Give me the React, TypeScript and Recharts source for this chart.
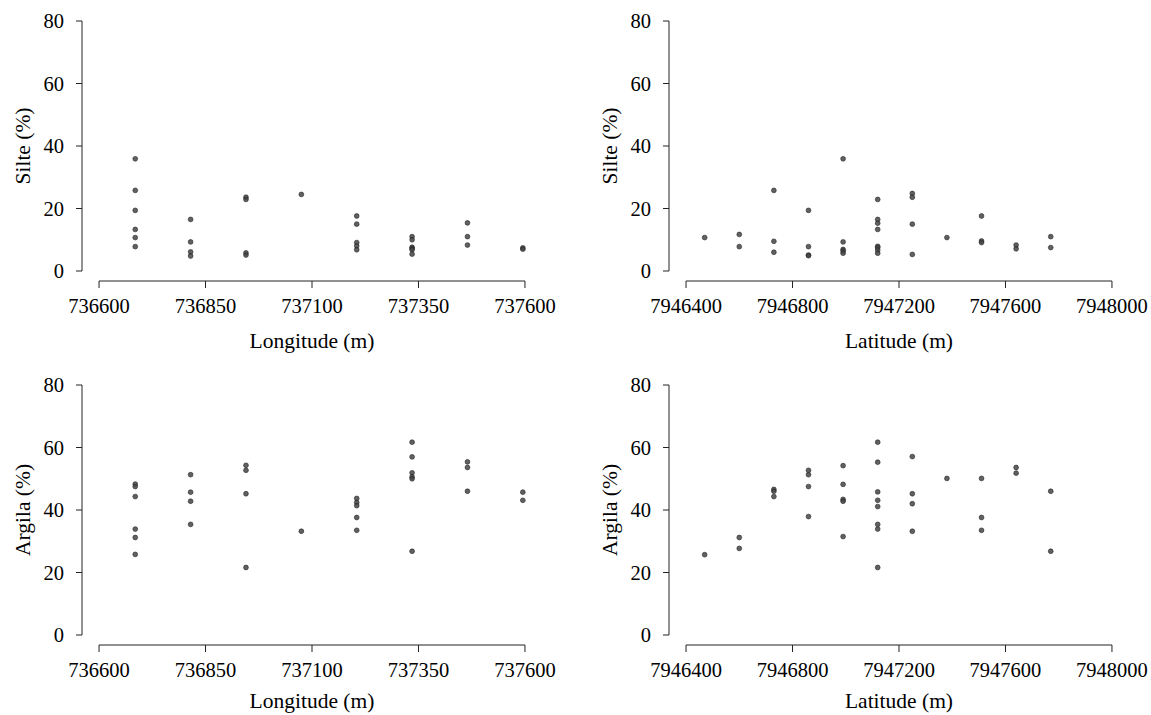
import { ScatterChart, Scatter, XAxis, YAxis, ReferenceLine } from 'recharts';

// sampling positions (m) and the values read at each position
const longitudes = [736685, 736815, 736945, 737075, 737205, 737335, 737465, 737595];
const latitudes = [7946470, 7946600, 7946730, 7946860, 7946990, 7947120, 7947250, 7947380, 7947510, 7947640, 7947770];

const silteByLongitude = [
  [35.9, 25.8, 19.4, 13.3, 10.7, 7.8],
  [16.5, 9.3, 6.1, 4.8],
  [23.6, 22.9, 5.8, 5.1],
  [24.5],
  [17.6, 15.0, 9.1, 8.0, 6.8],
  [11.0, 10.0, 7.6, 7.2, 6.8, 5.4],
  [15.4, 11.0, 8.3],
  [7.4, 7.0],
];

const argilaByLongitude = [
  [48.3, 47.5, 44.3, 33.9, 31.2, 25.8],
  [51.3, 45.7, 42.8, 35.4],
  [54.3, 52.7, 45.2, 21.6],
  [33.2],
  [43.7, 42.4, 41.4, 37.6, 33.5],
  [61.7, 57.0, 51.9, 50.6, 50.0, 26.8],
  [55.4, 53.6, 46.0],
  [45.7, 43.1],
];

const silteByLatitude = [
  [10.7],
  [11.7, 7.8],
  [25.8, 9.5, 6.0],
  [19.4, 7.8, 5.1, 4.9],
  [35.9, 9.3, 6.9, 6.4, 5.7],
  [22.9, 16.5, 15.3, 13.3, 7.9, 7.5, 6.7, 5.7],
  [24.8, 23.6, 15.0, 5.3],
  [10.7],
  [17.6, 9.6, 9.1],
  [8.3, 7.1],
  [11.0, 7.5],
];

const argilaByLatitude = [
  [25.7],
  [31.2, 27.7],
  [46.6, 46.0, 44.3],
  [52.7, 51.3, 47.5, 37.9],
  [54.2, 48.2, 43.4, 42.8, 31.5],
  [61.7, 55.3, 45.8, 43.1, 41.1, 35.4, 33.9, 21.6],
  [57.1, 45.2, 42.0, 33.2],
  [50.1],
  [50.1, 37.6, 33.5],
  [53.6, 51.8],
  [46.0, 26.8],
];

const longitudeTicks = [736600, 736850, 737100, 737350, 737600];
const latitudeTicks = [7946400, 7946800, 7947200, 7947600, 7948000];
const percentTicks = [0, 20, 40, 60, 80];

const FONT = "'Liberation Serif', 'DejaVu Serif', serif";
const TICK_SIZE = 20.5;
const LABEL_SIZE = 21.5;
const CHART_W = 587;
const CHART_H = 364;

// R-style 4% padding around the axis range
const pad = (ticks: number[]): [number, number] => {
  const lo = ticks[0];
  const hi = ticks[ticks.length - 1];
  const d = (hi - lo) * 0.04;
  return [lo - d, hi + d];
};

const toPoints = (xs: number[], groups: number[][]) =>
  groups.flatMap((g, i) => g.map((y) => ({ x: xs[i], y })));

const Dot = (p: any) => (
  <circle cx={p.cx} cy={p.cy} r={2.4} fill="#454545" fillOpacity={0.85} stroke="#222" strokeWidth={0.6} />
);

const XTick = (p: any) => (
  <text x={p.x} y={p.y} dy="0.71em" textAnchor="middle" fill="#000" style={{ fontFamily: FONT, fontSize: TICK_SIZE }}>
    {p.payload.value}
  </text>
);

const YTick = (p: any) => (
  <text x={p.x} y={p.y} dy="0.355em" textAnchor="end" fill="#000" style={{ fontFamily: FONT, fontSize: TICK_SIZE }}>
    {p.payload.value}
  </text>
);

type PanelProps = {
  left: number;
  top: number;
  points: { x: number; y: number }[];
  xTicks: number[];
  xLabel: string;
  yLabel: string;
  labelOffset: number;
};

function Panel({ left, top, points, xTicks, xLabel, yLabel, labelOffset }: PanelProps) {
  const xDomain = pad(xTicks);
  const yDomain = pad(percentTicks);

  const xLabelEl = (p: any) => {
    const vb = p.viewBox;
    return (
      <text
        x={vb.x + vb.width / 2}
        y={vb.y + vb.height - labelOffset}
        textAnchor="middle"
        fill="#000"
        style={{ fontFamily: FONT, fontSize: LABEL_SIZE }}
      >
        {xLabel}
      </text>
    );
  };

  const yLabelEl = (p: any) => {
    const vb = p.viewBox;
    const cx = vb.x + 22;
    const cy = vb.y + vb.height / 2;
    return (
      <text
        x={cx}
        y={cy}
        dy="0.355em"
        textAnchor="middle"
        transform={`rotate(-90 ${cx} ${cy})`}
        fill="#000"
        style={{ fontFamily: FONT, fontSize: LABEL_SIZE }}
      >
        {yLabel}
      </text>
    );
  };

  return (
    <div style={{ position: 'absolute', left, top }}>
      <ScatterChart width={CHART_W} height={CHART_H} margin={{ top: 11, right: 45, bottom: 0, left: 0 }}>
        <XAxis
          type="number"
          dataKey="x"
          domain={xDomain}
          ticks={xTicks}
          interval={0}
          allowDataOverflow
          axisLine={false}
          tickLine={{ stroke: '#222' }}
          tickSize={7}
          tickMargin={10}
          height={83}
          tick={XTick}
          label={xLabelEl}
        />
        <YAxis
          type="number"
          dataKey="y"
          domain={yDomain}
          ticks={percentTicks}
          interval={0}
          allowDataOverflow
          axisLine={false}
          tickLine={{ stroke: '#222' }}
          tickSize={6}
          tickMargin={12}
          width={82}
          tick={YTick}
          label={yLabelEl}
        />
        {/* detached axis lines, like base R graphics */}
        <ReferenceLine
          segment={[
            { x: xTicks[0], y: yDomain[0] },
            { x: xTicks[xTicks.length - 1], y: yDomain[0] },
          ]}
          stroke="#222"
          strokeWidth={1}
          ifOverflow="visible"
        />
        <ReferenceLine
          segment={[
            { x: xDomain[0], y: percentTicks[0] },
            { x: xDomain[0], y: percentTicks[percentTicks.length - 1] },
          ]}
          stroke="#222"
          strokeWidth={1}
          ifOverflow="visible"
        />
        <Scatter data={points} isAnimationActive={false} shape={Dot} />
      </ScatterChart>
    </div>
  );
}

export default function App() {
  return (
    <div
      style={{
        position: 'absolute',
        left: 0,
        top: 0,
        width: 1151,
        height: 715,
        overflow: 'hidden',
        background: '#fff',
      }}
    >
      <Panel left={0} top={0} points={toPoints(longitudes, silteByLongitude)} xTicks={longitudeTicks} xLabel="Longitude (m)" yLabel="Silte (%)" labelOffset={16} />
      <Panel left={CHART_W} top={0} points={toPoints(latitudes, silteByLatitude)} xTicks={latitudeTicks} xLabel="Latitude (m)" yLabel="Silte (%)" labelOffset={16} />
      <Panel left={0} top={CHART_H} points={toPoints(longitudes, argilaByLongitude)} xTicks={longitudeTicks} xLabel="Longitude (m)" yLabel="Argila (%)" labelOffset={20} />
      <Panel left={CHART_W} top={CHART_H} points={toPoints(latitudes, argilaByLatitude)} xTicks={latitudeTicks} xLabel="Latitude (m)" yLabel="Argila (%)" labelOffset={20} />
    </div>
  );
}
